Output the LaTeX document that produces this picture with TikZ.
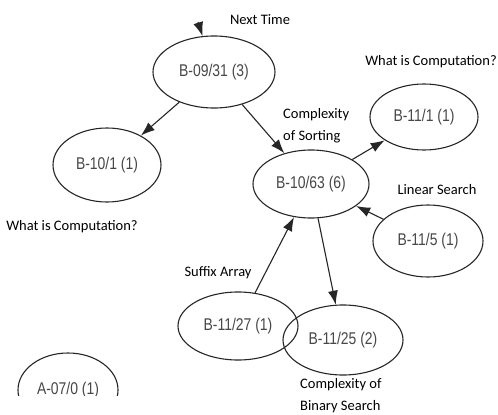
\documentclass[tikz,border=0pt]{standalone}
\usepackage{fontspec}
\setmainfont{Carlito}
\newfontfamily\nodefont[FakeStretch=0.82]{Liberation Sans}
\usetikzlibrary{shapes.geometric,arrows.meta}

\begin{document}
\begin{tikzpicture}[x=1pt,y=-1pt,
  blob/.style={draw=black!85,line width=1.1pt,ellipse,inner sep=0pt,
    text=black!72,font=\nodefont\fontsize{17}{17}\selectfont},
  lbl/.style={font=\fontsize{14.5}{22}\selectfont,inner sep=0pt},
  link/.style={draw=black!85,line width=1.1pt,-{Latex[length=14pt,width=10pt]}}]
  \path[fill=white] (0,0) rectangle (498,415);

  % topic nodes
  \node[blob,minimum width=122pt,minimum height=72pt] (b0931) at (214,72) {B-09/31 (3)};
  \node[blob,minimum width=108pt,minimum height=74pt] (b101) at (107,165) {B-10/1 (1)};
  \node[blob,minimum width=116pt,minimum height=68pt] (b1063) at (311,184) {B-10/63 (6)};
  \node[blob,minimum width=108pt,minimum height=66pt] (b111) at (424,117) {B-11/1 (1)};
  \node[blob,minimum width=110pt,minimum height=72pt] (b115) at (428,241) {B-11/5 (1)};
  \node[blob,minimum width=120pt,minimum height=68pt] (b1127) at (238,326) {B-11/27 (1)};
  \node[blob,minimum width=120pt,minimum height=70pt] (b1125) at (343,340) {B-11/25 (2)};
  \begin{scope}
    \clip (0,0) rectangle (498,395);
    \node[blob,minimum width=100pt,minimum height=74pt] (a070) at (68,390) {A-07/0 (1)};
  \end{scope}
  \coordinate (top) at (198,22);

  % titles
  \node[lbl] (tNext) at (260,20) {Next Time};
  \node[lbl] (tCompR) at (431,62) {What is Computation?};
  \node[lbl,anchor=west,align=left] (tSort) at (283,126) {Complexity\\of Sorting};
  \node[lbl] (tLin) at (437,190) {Linear Search};
  \node[lbl] (tCompL) at (72,227) {What is Computation?};
  \node[lbl] (tSuf) at (218,273) {Suffix Array};
  \node[lbl,anchor=west,align=left] (tBin) at (300,396) {Complexity of\\Binary Search};

  % arrows
  \draw[link] (top) -- (b0931);
  \draw[link] (b0931) -- (b101);
  \draw[link] (b0931) -- (b1063);
  \draw[link] (b1063) -- (b111);
  \draw[link] (b115) -- (b1063);
  \draw[link] (b1127) -- (b1063);
  \draw[link] (b1063) -- (b1125);
\end{tikzpicture}
\end{document}
